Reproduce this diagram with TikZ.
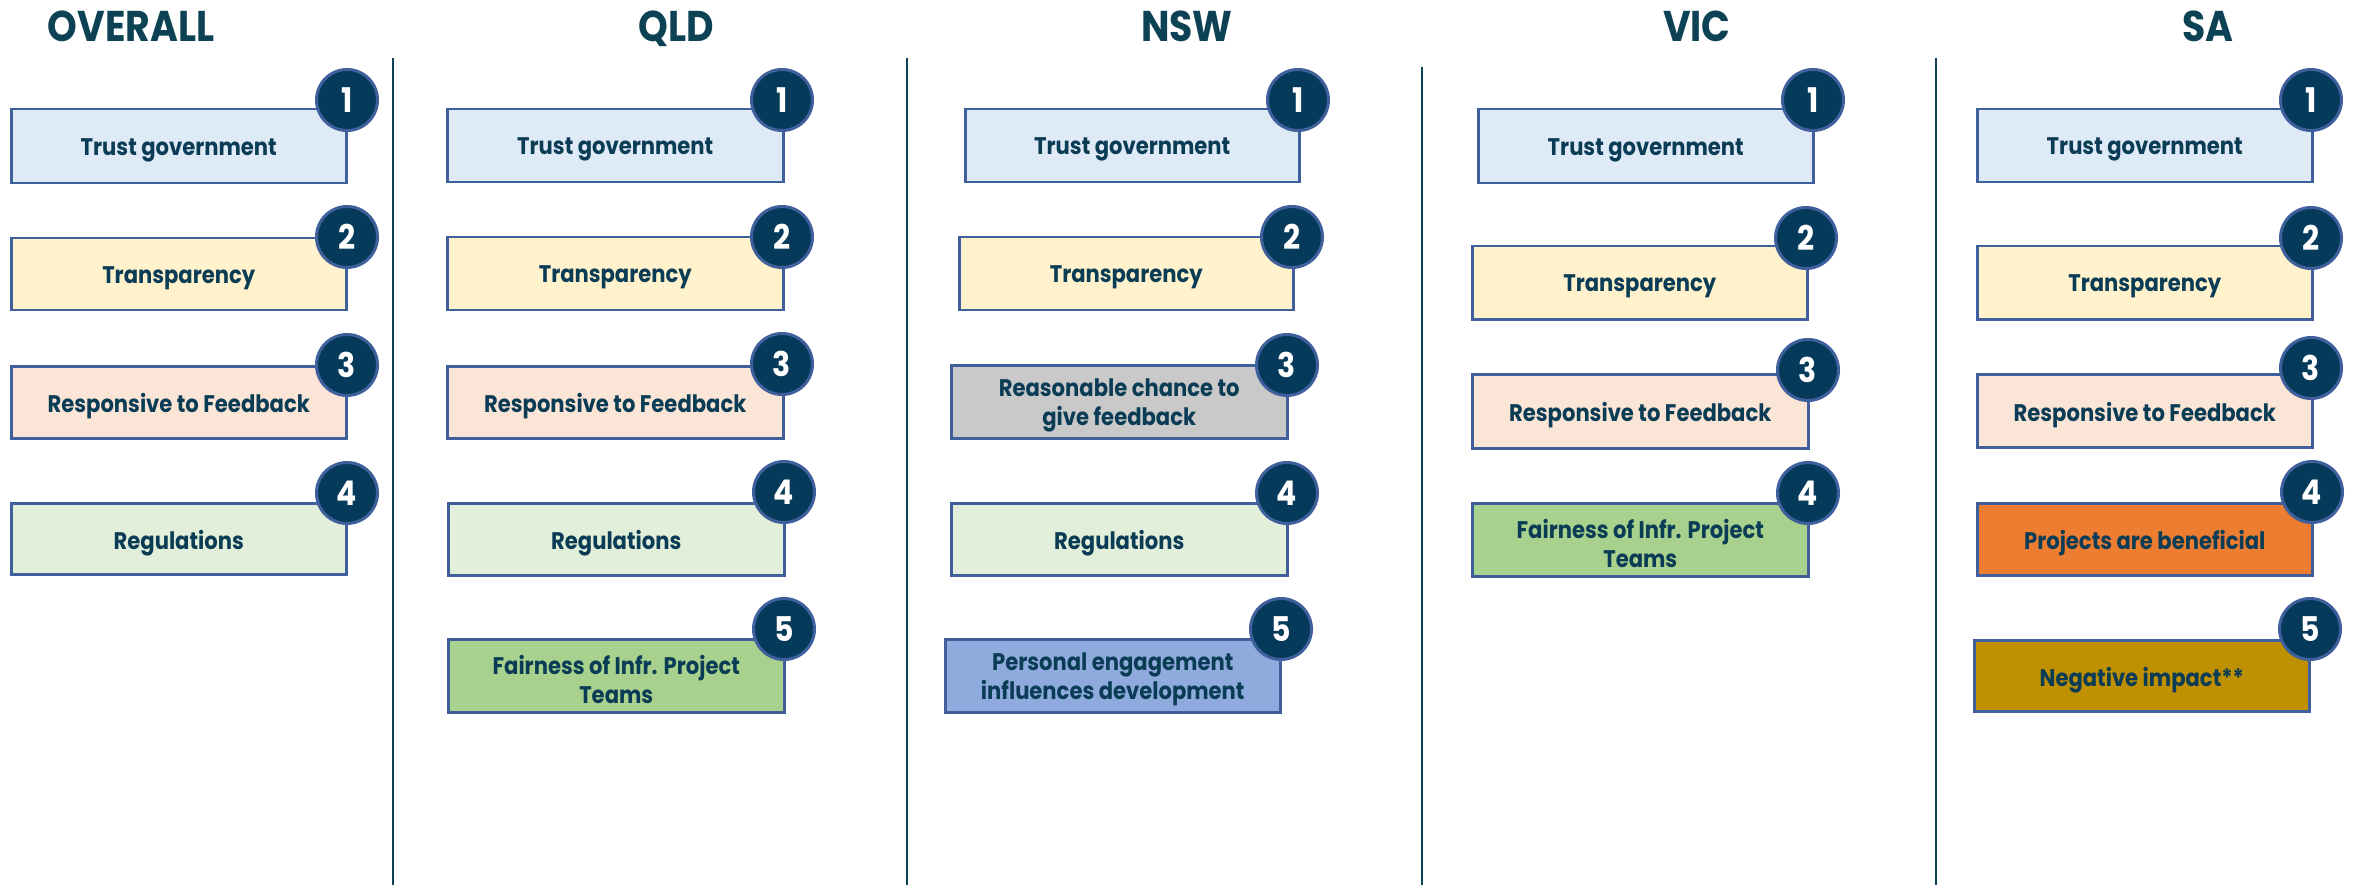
\documentclass[tikz,border=0pt]{standalone}
\usepackage{fontspec}
\setmainfont{Poppins}[FakeStretch=0.88]
\definecolor{ink}{HTML}{0B3C55}
\definecolor{ttl}{HTML}{0D4254}
\definecolor{edge}{HTML}{3F5F9D}
\definecolor{dot}{HTML}{063A5A}
\definecolor{cTrust}{HTML}{DEEAF6}
\definecolor{cTransp}{HTML}{FFF2CC}
\definecolor{cResp}{HTML}{FBE5D6}
\definecolor{cReg}{HTML}{E2EFDA}
\definecolor{cFair}{HTML}{A9D18E}
\definecolor{cReas}{HTML}{C9C9C9}
\definecolor{cPers}{HTML}{8FAADC}
\definecolor{cProj}{HTML}{ED7D31}
\definecolor{cNeg}{HTML}{BF9000}
\tikzset{
  boxnode/.style={draw=edge, line width=2.5pt, anchor=north west, inner sep=0pt},
  boxtext/.style={text=ink, align=center, inner sep=0pt,
    font=\fontsize{24}{29}\selectfont\bfseries},
  numdot/.style={circle, draw=edge, fill=dot, line width=3pt, minimum size=61pt,
    inner sep=0pt, text=white, font=\fontsize{34}{34}\selectfont\bfseries},
  title/.style={text=ttl, font=\fontsize{43}{43}\selectfont\bfseries, anchor=base},
  sep/.style={draw=ttl, line width=2pt}
}
% \mybox{name}{left}{top}{right}{bottom}{fill}{text}{cx}{cy}; number in \Numb
\newcommand\mybox[9]{%
  \node[boxnode, fill=#6, minimum width=#4-#2, minimum height=#5-#3] (#1) at (#2,#3) {};
  \node[boxtext] (#1t) at ([yshift=-4pt]#1.center) {#7};
  \node[numdot] (#1n) at (#8,#9) {\Numb};
}
\begin{document}
\begin{tikzpicture}[x=1pt,y=-1pt]
\useasboundingbox (0,0) rectangle (2361,885);
% titles
\node[title] (tO) at (131,42) {OVERALL};
\node[title] (tQ) at (676,42) {QLD};
\node[title] (tN) at (1187,42) {NSW};
\node[title] (tV) at (1697,42) {VIC};
\node[title] (tS) at (2208,42) {SA};
% separators
\coordinate (s1a) at (393,58); \coordinate (s1b) at (393,885);
\coordinate (s2a) at (907,58); \coordinate (s2b) at (907,885);
\coordinate (s3a) at (1422,67); \coordinate (s3b) at (1422,885);
\coordinate (s4a) at (1936,58); \coordinate (s4b) at (1936,885);
\draw[sep] (s1a) -- (s1b);
\draw[sep] (s2a) -- (s2b);
\draw[sep] (s3a) -- (s3b);
\draw[sep] (s4a) -- (s4b);
% OVERALL
\def\Numb{1}\mybox{o1}{10}{108}{345}{182}{cTrust}{Trust government}{347}{100}
\def\Numb{2}\mybox{o2}{10}{237}{345}{309}{cTransp}{Transparency}{347}{237}
\def\Numb{3}\mybox{o3}{10}{365}{345}{437}{cResp}{Responsive to Feedback}{347}{365}
\def\Numb{4}\mybox{o4}{10}{502}{345}{573}{cReg}{Regulations}{347}{493}
% QLD
\def\Numb{1}\mybox{q1}{446}{108}{782}{181}{cTrust}{Trust government}{782}{100}
\def\Numb{2}\mybox{q2}{446}{236}{782}{309}{cTransp}{Transparency}{782}{237}
\def\Numb{3}\mybox{q3}{446}{365}{782}{437}{cResp}{Responsive to Feedback}{782}{364}
\def\Numb{4}\mybox{q4}{447}{502}{783}{574}{cReg}{Regulations}{784}{492}
\def\Numb{5}\mybox{q5}{447}{638}{783}{711}{cFair}{Fairness of Infr. Project\\Teams}{784}{629}
% NSW
\def\Numb{1}\mybox{n1}{964}{108}{1298}{181}{cTrust}{Trust government}{1298}{100}
\def\Numb{2}\mybox{n2}{958}{236}{1292}{309}{cTransp}{Transparency}{1292}{237}
\def\Numb{3}\mybox{n3}{950}{364}{1286}{437}{cReas}{Reasonable chance to\\give feedback}{1287}{365}
\def\Numb{4}\mybox{n4}{950}{502}{1286}{574}{cReg}{Regulations}{1287}{493}
\def\Numb{5}\mybox{n5}{944}{638}{1279}{711}{cPers}{Personal engagement\\influences development}{1281}{629}
% VIC
\def\Numb{1}\mybox{v1}{1477}{108}{1812}{182}{cTrust}{Trust government}{1813}{100}
\def\Numb{2}\mybox{v2}{1471}{245}{1806}{318}{cTransp}{Transparency}{1806}{238}
\def\Numb{3}\mybox{v3}{1471}{373}{1807}{447}{cResp}{Responsive to Feedback}{1808}{370}
\def\Numb{4}\mybox{v4}{1471}{502}{1807}{575}{cFair}{Fairness of Infr. Project\\Teams}{1808}{493}
% SA
\def\Numb{1}\mybox{a1}{1976}{108}{2311}{181}{cTrust}{Trust government}{2311}{100}
\def\Numb{2}\mybox{a2}{1976}{245}{2311}{318}{cTransp}{Transparency}{2311}{238}
\def\Numb{3}\mybox{a3}{1976}{373}{2311}{446}{cResp}{Responsive to Feedback}{2311}{368}
\def\Numb{4}\mybox{a4}{1976}{502}{2311}{574}{cProj}{Projects are beneficial}{2312}{492}
\def\Numb{5}\mybox{a5}{1973}{639}{2308}{710}{cNeg}{Negative impact**}{2310}{629}
\end{tikzpicture}
\end{document}
